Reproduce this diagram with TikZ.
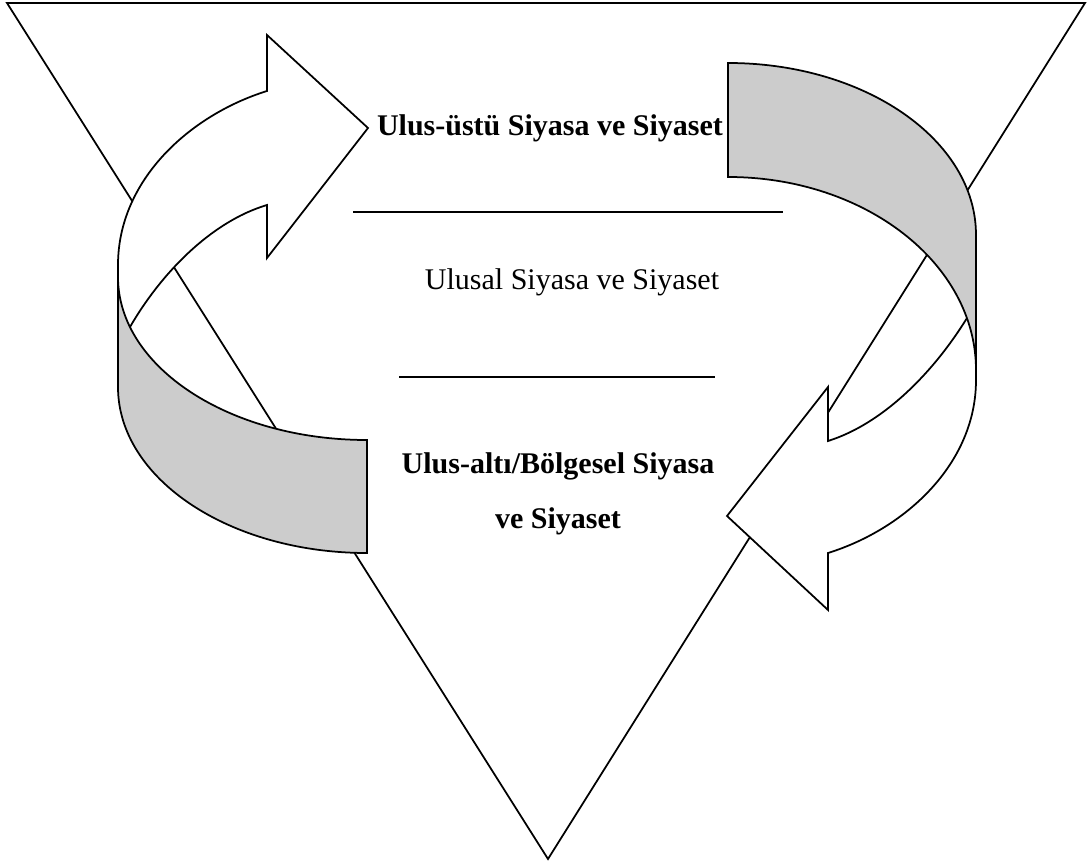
\documentclass[tikz,border=0pt]{standalone}
\usepackage{fontspec}
\setmainfont{Liberation Serif}
\usepackage{xcolor}
\definecolor{band}{HTML}{CCCCCC}
\definecolor{ink}{HTML}{000000}

\begin{document}
\begin{tikzpicture}[x=0.4pt,y=-0.4pt,
  edge/.style={draw=ink,line width=0.7pt},
  face/.style={edge,fill=white},
  back/.style={edge,fill=band},
  lab/.style={font=\fontsize{12}{22}\selectfont,text=ink,inner sep=0pt,align=center},
  blab/.style={lab,font=\fontsize{12}{22}\selectfont\bfseries}]
\useasboundingbox (0,0) rectangle (1087,865);
\draw[edge] (7,3) -- (1085,3) -- (548,859) -- cycle;
\draw[edge] (353,212) -- (783,212);
\draw[edge] (399,377) -- (715,377);
\node[blab] (supra) at (550,128) {Ulus-üstü Siyasa ve Siyaset};
\node[lab] (ulusal) at (572,282) {Ulusal Siyasa ve Siyaset};
\node[blab] (alt) at (558,494) {Ulus-altı/Bölgesel Siyasa\\ve Siyaset};
% sol ok
\draw[face] (267,91) .. controls (190,115) and (118,180) .. (118,265) -- (118,327) -- (130,327)
  .. controls (160,275) and (210,222) .. (267,205) -- (267,258) -- (368,128) -- (267,35) -- cycle;
\draw[back] (118,277) -- (118,387) arc[start angle=180,end angle=90,x radius=249,y radius=166]
  -- (367,440) arc[start angle=90,end angle=180,x radius=249,y radius=163] -- cycle;
% sag ok
\draw[face] (828,553) .. controls (905,529) and (976,464) .. (976,380) -- (976,318) -- (967,318)
  .. controls (935,370) and (885,423) .. (828,441) -- (828,387) -- (727,516) -- (828,610) -- cycle;
\draw[back] (728,63) arc[start angle=270,end angle=360,x radius=248,y radius=172]
  -- (976,370) arc[start angle=0,end angle=-90,x radius=248,y radius=193] -- cycle;
\end{tikzpicture}
\end{document}
